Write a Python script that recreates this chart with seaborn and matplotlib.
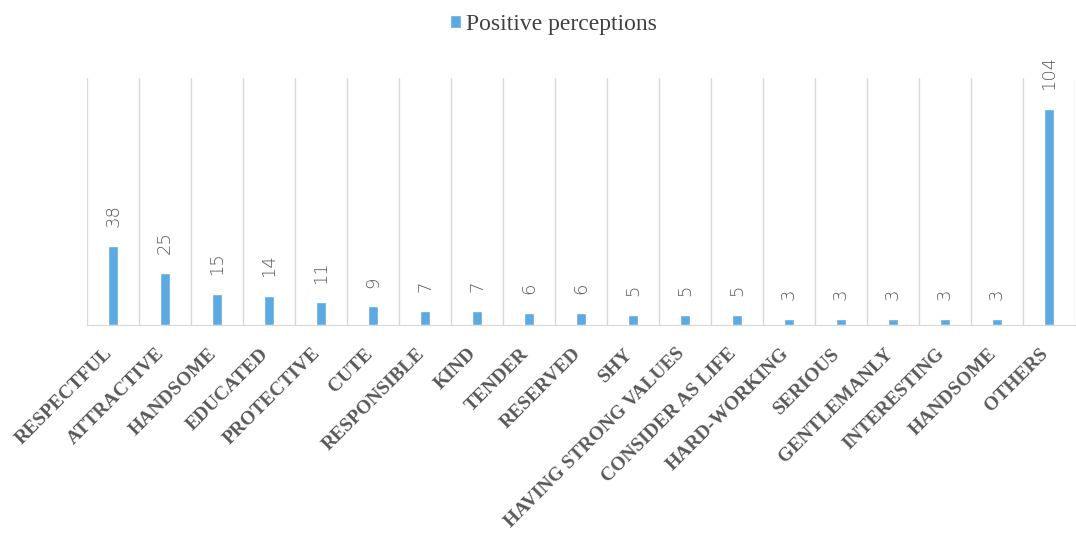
import pandas as pd
import numpy as np
import matplotlib
matplotlib.use("Agg")
import matplotlib.pyplot as plt
import seaborn as sns

# Data
categories = ["RESPECTFUL", "ATTRACTIVE", "HANDSOME", "EDUCATED", "PROTECTIVE",
              "CUTE", "RESPONSIBLE", "KIND", "TENDER", "RESERVED", "SHY",
              "HAVING STRONG VALUES", "CONSIDER AS LIFE", "HARD-WORKING",
              "SERIOUS", "GENTLEMANLY", "INTERESTING", "HANDSOME ", "OTHERS"]
counts = [38, 25, 15, 14, 11, 9, 7, 7, 6, 6, 5, 5, 5, 3, 3, 3, 3, 3, 104]

df = pd.DataFrame({"Trait": categories, "Count": counts})

sns.set_style("white")
fig = plt.figure(figsize=(10.76, 5.40), dpi=100)
ax = fig.add_axes([0.081, 0.398, 0.918, 0.458])

bar_color = "#5DA9E1"
sns.barplot(data=df, x="Trait", y="Count", color=bar_color, width=0.2,
            saturation=1, ax=ax, label="Positive perceptions")

# value labels
for i, v in enumerate(counts):
    ax.text(i, v + 9, str(v), rotation=90, ha="center", va="bottom",
            fontsize=13, color="#595959", family="DejaVu Sans", fontweight="light")

ax.set_ylim(0, 119)
ax.set_xlim(-0.5, len(categories) - 0.5)
ax.set_yticks([])
ax.set_xlabel("")
ax.set_ylabel("")

# vertical gridlines between categories
ax.set_xticks(np.arange(-0.5, len(categories), 1), minor=True)
ax.grid(which="minor", axis="x", color="#D9D9D9", linewidth=1)
ax.tick_params(axis="x", which="both", length=0, pad=21)

ax.set_xticks(range(len(categories)))
ax.set_xticklabels([c.strip() for c in categories], rotation=45, ha="right",
                   va="baseline", rotation_mode="anchor", fontsize=14,
                   fontweight="bold", family="Liberation Serif", color="#595959")

for s in ["top", "left", "right"]:
    ax.spines[s].set_visible(False)
ax.spines["bottom"].set_color("#D9D9D9")

leg = ax.legend(loc="upper center", bbox_to_anchor=(0.472, 1.345), frameon=False,
                handlelength=0.5, handleheight=0.5, handletextpad=0.2,
                prop={"family": "Liberation Serif", "size": 17})
for t in leg.get_texts():
    t.set_color("#404040")

fig.savefig("out.png", dpi=100)
